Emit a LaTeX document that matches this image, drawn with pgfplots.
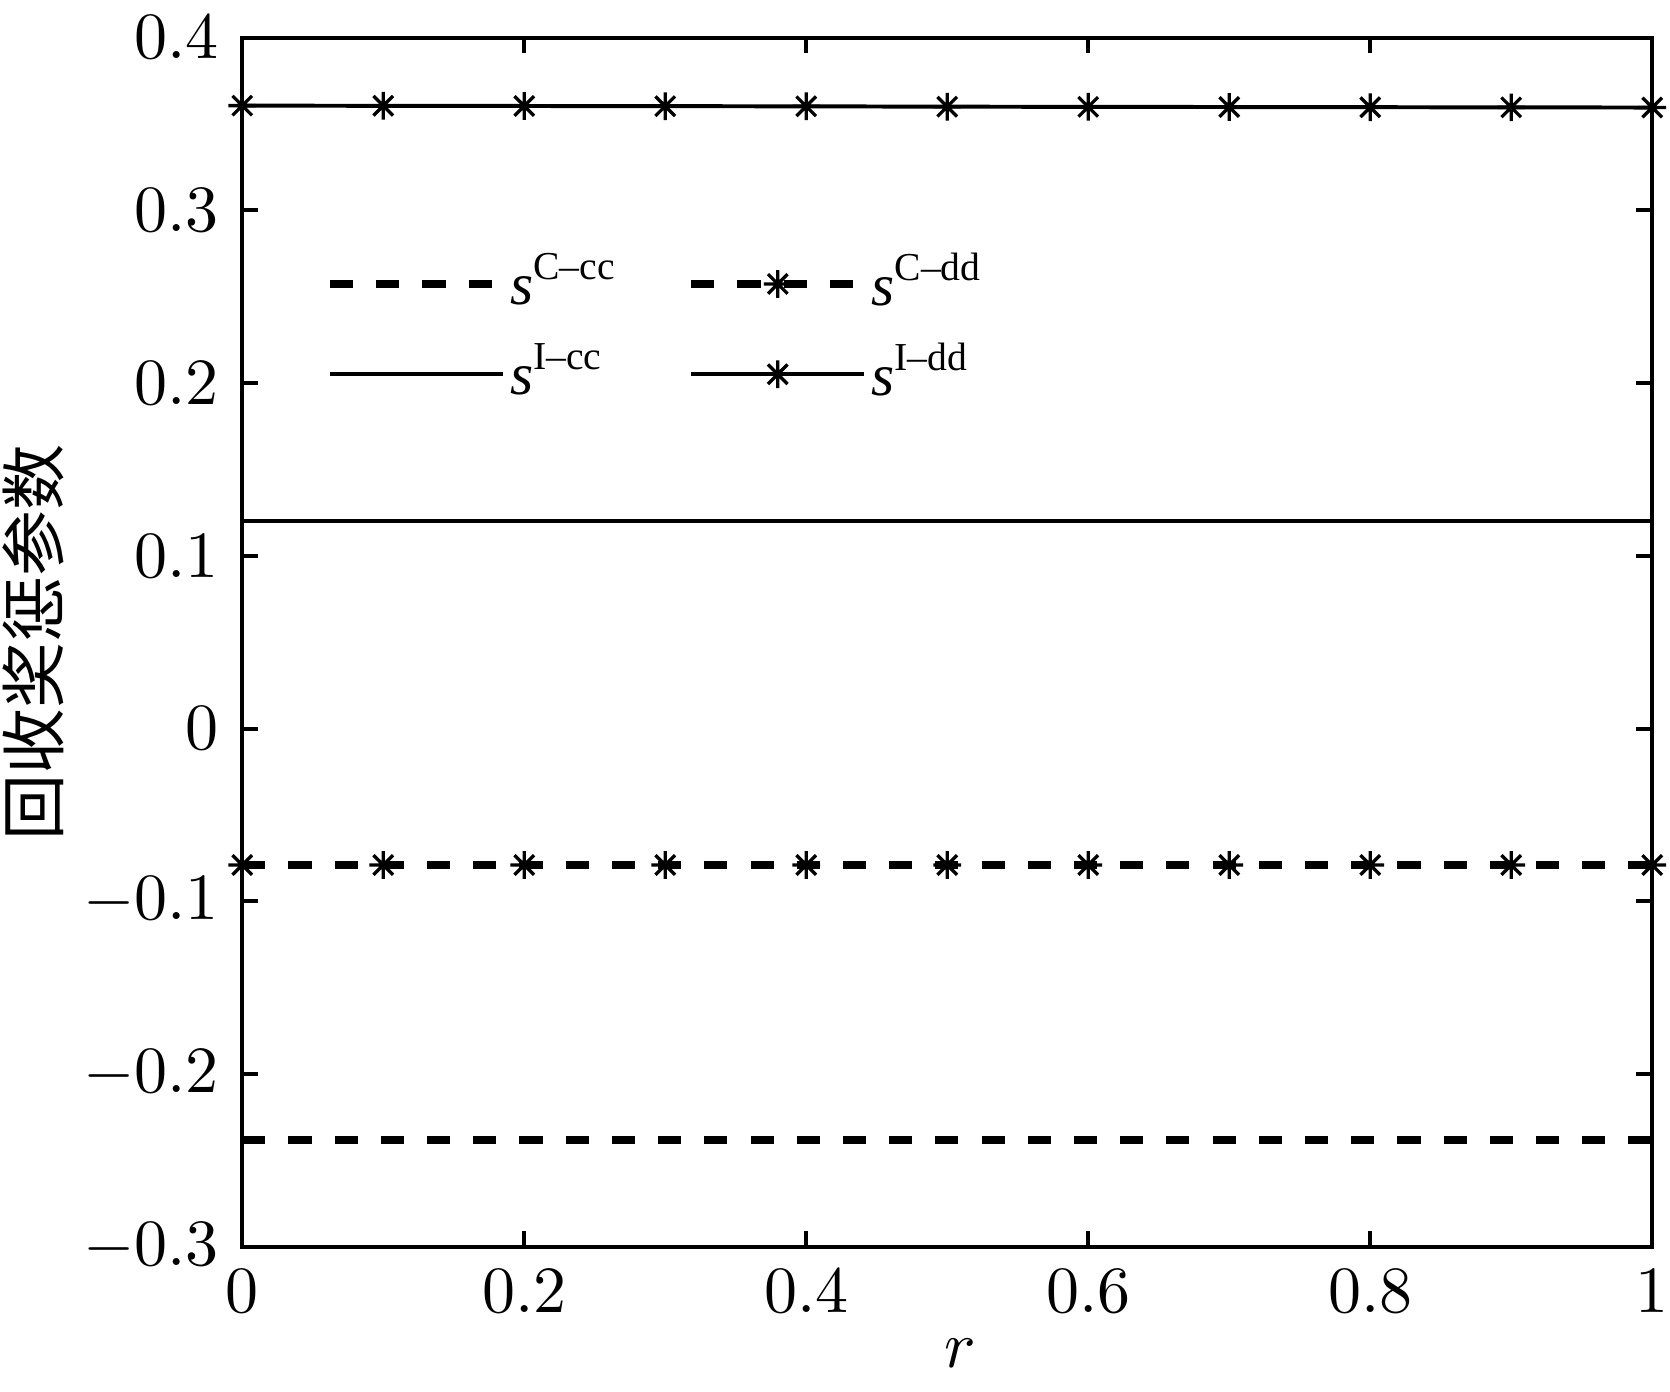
\documentclass[border=0pt]{standalone}
\usepackage{amsmath}
\usepackage{fontspec}
\usepackage{pgfplots}
\pgfplotsset{compat=1.18}
\newfontfamily\cjk{Noto Sans CJK SC}
\newfontfamily\tms{Liberation Serif}
\pgfdeclareplotmark{star8}{%
  \pgfpathmoveto{\pgfpoint{0pt}{\pgfplotmarksize}}\pgfpathlineto{\pgfpoint{0pt}{-\pgfplotmarksize}}%
  \pgfpathmoveto{\pgfpoint{\pgfplotmarksize}{0pt}}\pgfpathlineto{\pgfpoint{-\pgfplotmarksize}{0pt}}%
  \pgfpathmoveto{\pgfpoint{0.707\pgfplotmarksize}{0.707\pgfplotmarksize}}\pgfpathlineto{\pgfpoint{-0.707\pgfplotmarksize}{-0.707\pgfplotmarksize}}%
  \pgfpathmoveto{\pgfpoint{-0.707\pgfplotmarksize}{0.707\pgfplotmarksize}}\pgfpathlineto{\pgfpoint{0.707\pgfplotmarksize}{-0.707\pgfplotmarksize}}%
  \pgfusepathqstroke}
\begin{document}
\begin{tikzpicture}
\begin{axis}[
  name=ax,
  scale only axis, width=213.6pt, height=183.2pt,
  xmin=0, xmax=1, ymin=-0.3, ymax=0.4,
  xtick={0,0.2,0.4,0.6,0.8,1},
  ytick={-0.3,-0.2,-0.1,0,0.1,0.2,0.3,0.4},
  axis line style={line width=0.6pt},
  every tick/.style={black, line width=0.6pt},
  major tick length=2.4pt,
  tick label style={font=\normalsize},
  clip=false,
  xlabel={$r$},
  ylabel={\cjk 回收奖惩参数},
  xlabel style={at={([yshift=-18.3pt,xshift=2pt]axis description cs:0.5,0)}, anchor=base},
  ylabel style={at={([xshift=-31.7pt]axis description cs:0,0.5)}, anchor=center},
  legend columns=2,
  legend cell align=left,
  legend image code/.code={\draw[mark repeat=2,mark phase=2,#1] plot coordinates {(0pt,0pt) (13.1pt,0pt) (26.2pt,0pt)};},
  legend style={draw=none, fill=none, inner sep=0pt, font=\small\tms,
    at={(axis description cs:0.0585,0.826)}, anchor=north west,
    nodes={inner sep=0.5pt},
    row sep=3.2pt,
    /tikz/every even column/.append style={column sep=10pt}},
]
\addplot[black, line width=1.2pt, dash pattern=on 3.5pt off 3.5pt] coordinates {(0,-0.238) (1,-0.238)};
\addlegendentry{\textit{s}\textsuperscript{C–cc}}
\addplot[black, line width=1.2pt, dash pattern=on 3.5pt off 3.5pt, mark=star8, mark size=2.1pt, mark options={solid, line width=0.5pt}] coordinates {
(0,-0.079) (0.1,-0.079) (0.2,-0.079) (0.3,-0.079) (0.4,-0.079) (0.5,-0.079) (0.6,-0.079) (0.7,-0.079) (0.8,-0.079) (0.9,-0.079) (1,-0.079)};
\addlegendentry{\textit{s}\textsuperscript{C–dd}}
\addplot[black, line width=0.6pt] coordinates {(0,0.12) (1,0.12)};
\addlegendentry{\textit{s}\textsuperscript{I–cc}}
\addplot[black, line width=0.6pt, mark=star8, mark size=2.1pt, mark options={solid, line width=0.5pt}] coordinates {
(0,0.3606) (0.1,0.3605) (0.2,0.3604) (0.3,0.3603) (0.4,0.3602) (0.5,0.3600) (0.6,0.3599) (0.7,0.3598) (0.8,0.3597) (0.9,0.3596) (1,0.3595)};
\addlegendentry{\textit{s}\textsuperscript{I–dd}}
\end{axis}
\pgfresetboundingbox
\path ([xshift=-36.7pt,yshift=-21.9pt]ax.south west) rectangle ([xshift=2.7pt,yshift=5.7pt]ax.north east);
\end{tikzpicture}
\end{document}
